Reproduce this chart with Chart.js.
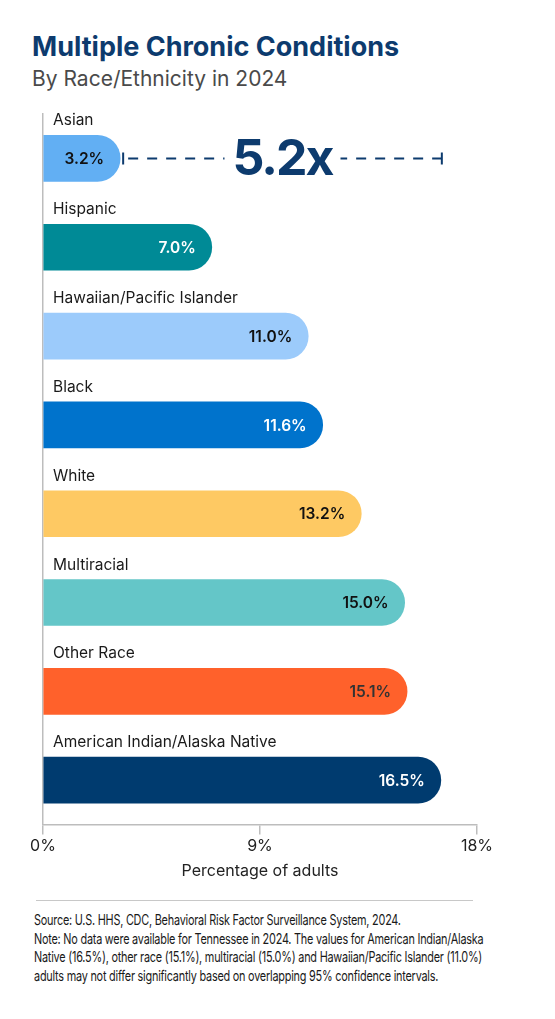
<!DOCTYPE html>
<html>
<head>
<meta charset="utf-8">
<script src="https://cdn.jsdelivr.net/npm/chart.js@4.4.1/dist/chart.umd.min.js"></script>
<style>
  html, body { margin: 0; padding: 0; background: #fff; }
  body { width: 555px; height: 1019px; position: relative; overflow: hidden; font-family: Inter, sans-serif; }
  #title { position: absolute; left: 32px; top: 30px; font-size: 27px; font-weight: 700; color: #0d3b6e; }
  #subtitle { position: absolute; left: 32px; top: 66px; font-size: 21px; color: #4a4a4a; }
  #chartBox { position: absolute; left: 0; top: 0; width: 555px; height: 890px; }
  #rule { position: absolute; left: 36px; top: 900px; width: 437px; height: 0; border-top: 1.5px solid #c8c8c8; }
  #notes { position: absolute; left: 34px; top: 911px; font-size: 14.5px; line-height: 18.7px; color: #1a1a1a; white-space: nowrap; letter-spacing: -0.3px; transform: scaleX(0.75); transform-origin: left top; }
</style>
</head>
<body>
<div id="title">Multiple Chronic Conditions</div>
<div id="subtitle">By Race/Ethnicity in 2024</div>
<div id="chartBox"><canvas id="chronicChart" width="555" height="890"></canvas></div>
<div id="rule"></div>
<div id="notes">
Source: U.S. HHS, CDC, Behavioral Risk Factor Surveillance System, 2024.<br>
Note: No data were available for Tennessee in 2024. The values for American Indian/Alaska<br>
Native (16.5%), other race (15.1%), multiracial (15.0%) and Hawaiian/Pacific Islander (11.0%)<br>
adults may not differ significantly based on overlapping 95% confidence intervals.
</div>
<script>
// data
const categories = ['Asian', 'Hispanic', 'Hawaiian/Pacific Islander', 'Black', 'White', 'Multiracial', 'Other Race', 'American Indian/Alaska Native'];
const values = [3.2, 7.0, 11.0, 11.6, 13.2, 15.0, 15.1, 16.5];
const barColors = ['#62aff3', '#008a96', '#9ccbfb', '#0073cc', '#fec963', '#64c6c8', '#ff612b', '#003b6f'];
const valueTextColors = ['#111', '#fff', '#111', '#fff', '#111', '#111', '#333', '#fff'];
const xTicks = [0, 9, 18];
const ratioLabel = '5.2x';

Chart.defaults.font.family = 'Inter, sans-serif';

// labels above bars, values inside, ratio marker
const barLabels = {
  id: 'barLabels',
  afterDatasetsDraw(chart) {
    const ctx = chart.ctx;
    const area = chart.chartArea;
    const bars = chart.getDatasetMeta(0).data;
    ctx.save();
    bars.forEach((bar, i) => {
      ctx.font = '15.5px Inter, sans-serif';
      ctx.fillStyle = '#1a1a1a';
      ctx.textAlign = 'left';
      ctx.textBaseline = 'alphabetic';
      ctx.fillText(categories[i], area.left + 10, bar.y - 33);

      ctx.font = '600 15.5px Inter, sans-serif';
      ctx.fillStyle = valueTextColors[i];
      ctx.textAlign = 'right';
      ctx.textBaseline = 'middle';
      ctx.fillText(values[i].toFixed(1) + '%', bar.x - 16, bar.y + 1);
    });

    const first = bars[0];
    const last = bars[bars.length - 1];
    const x1 = first.x + 3, x2 = last.x + 1, y = first.y;
    ctx.strokeStyle = '#0d3b6e';
    ctx.lineWidth = 2;
    ctx.setLineDash([10, 9]);
    ctx.beginPath();
    ctx.moveTo(x1 + 5, y);
    ctx.lineTo(x2, y);
    ctx.stroke();
    ctx.setLineDash([]);
    ctx.beginPath();
    ctx.moveTo(x1, y - 6); ctx.lineTo(x1, y + 6);
    ctx.moveTo(x2, y - 6); ctx.lineTo(x2, y + 6);
    ctx.stroke();

    ctx.font = 'bold 50px Inter, sans-serif';
    ctx.letterSpacing = '-2px';
    const mid = (x1 + x2) / 2;
    const w = ctx.measureText(ratioLabel).width;
    ctx.fillStyle = '#fff';
    ctx.fillRect(mid - w / 2 - 8, y - 25, w + 16, 50);
    ctx.fillStyle = '#0d3b6e';
    ctx.textAlign = 'center';
    ctx.textBaseline = 'alphabetic';
    ctx.fillText(ratioLabel, mid, y + 17);
    ctx.restore();
  }
};

new Chart(document.getElementById('chronicChart'), {
  type: 'bar',
  data: {
    labels: categories,
    datasets: [{
      data: values,
      backgroundColor: barColors,
      borderWidth: 0,
      borderRadius: 23,
      barThickness: 46
    }]
  },
  options: {
    indexAxis: 'y',
    responsive: false,
    animation: false,
    layout: { padding: { top: 114, left: 43, right: 78, bottom: 9 } },
    plugins: { legend: { display: false }, tooltip: { enabled: false } },
    scales: {
      x: {
        min: 0, max: 18,
        afterBuildTicks: (scale) => { scale.ticks = xTicks.map(v => ({ value: v })); },
        ticks: { callback: v => v + '%', color: '#222', font: { size: 16 }, padding: 2, maxRotation: 0 },
        grid: { drawOnChartArea: false, drawTicks: true, tickLength: 10, color: '#bdbdbd', lineWidth: 1.5 },
        border: { display: true, color: '#bdbdbd', width: 1.5 },
        title: { display: true, text: 'Percentage of adults', color: '#222', font: { size: 16 }, padding: { top: 4, bottom: 0 } }
      },
      y: {
        ticks: { display: false },
        grid: { display: false, drawTicks: false },
        border: { display: true, color: '#bdbdbd', width: 1.5 }
      }
    }
  },
  plugins: [barLabels]
});
</script>
</body>
</html>
